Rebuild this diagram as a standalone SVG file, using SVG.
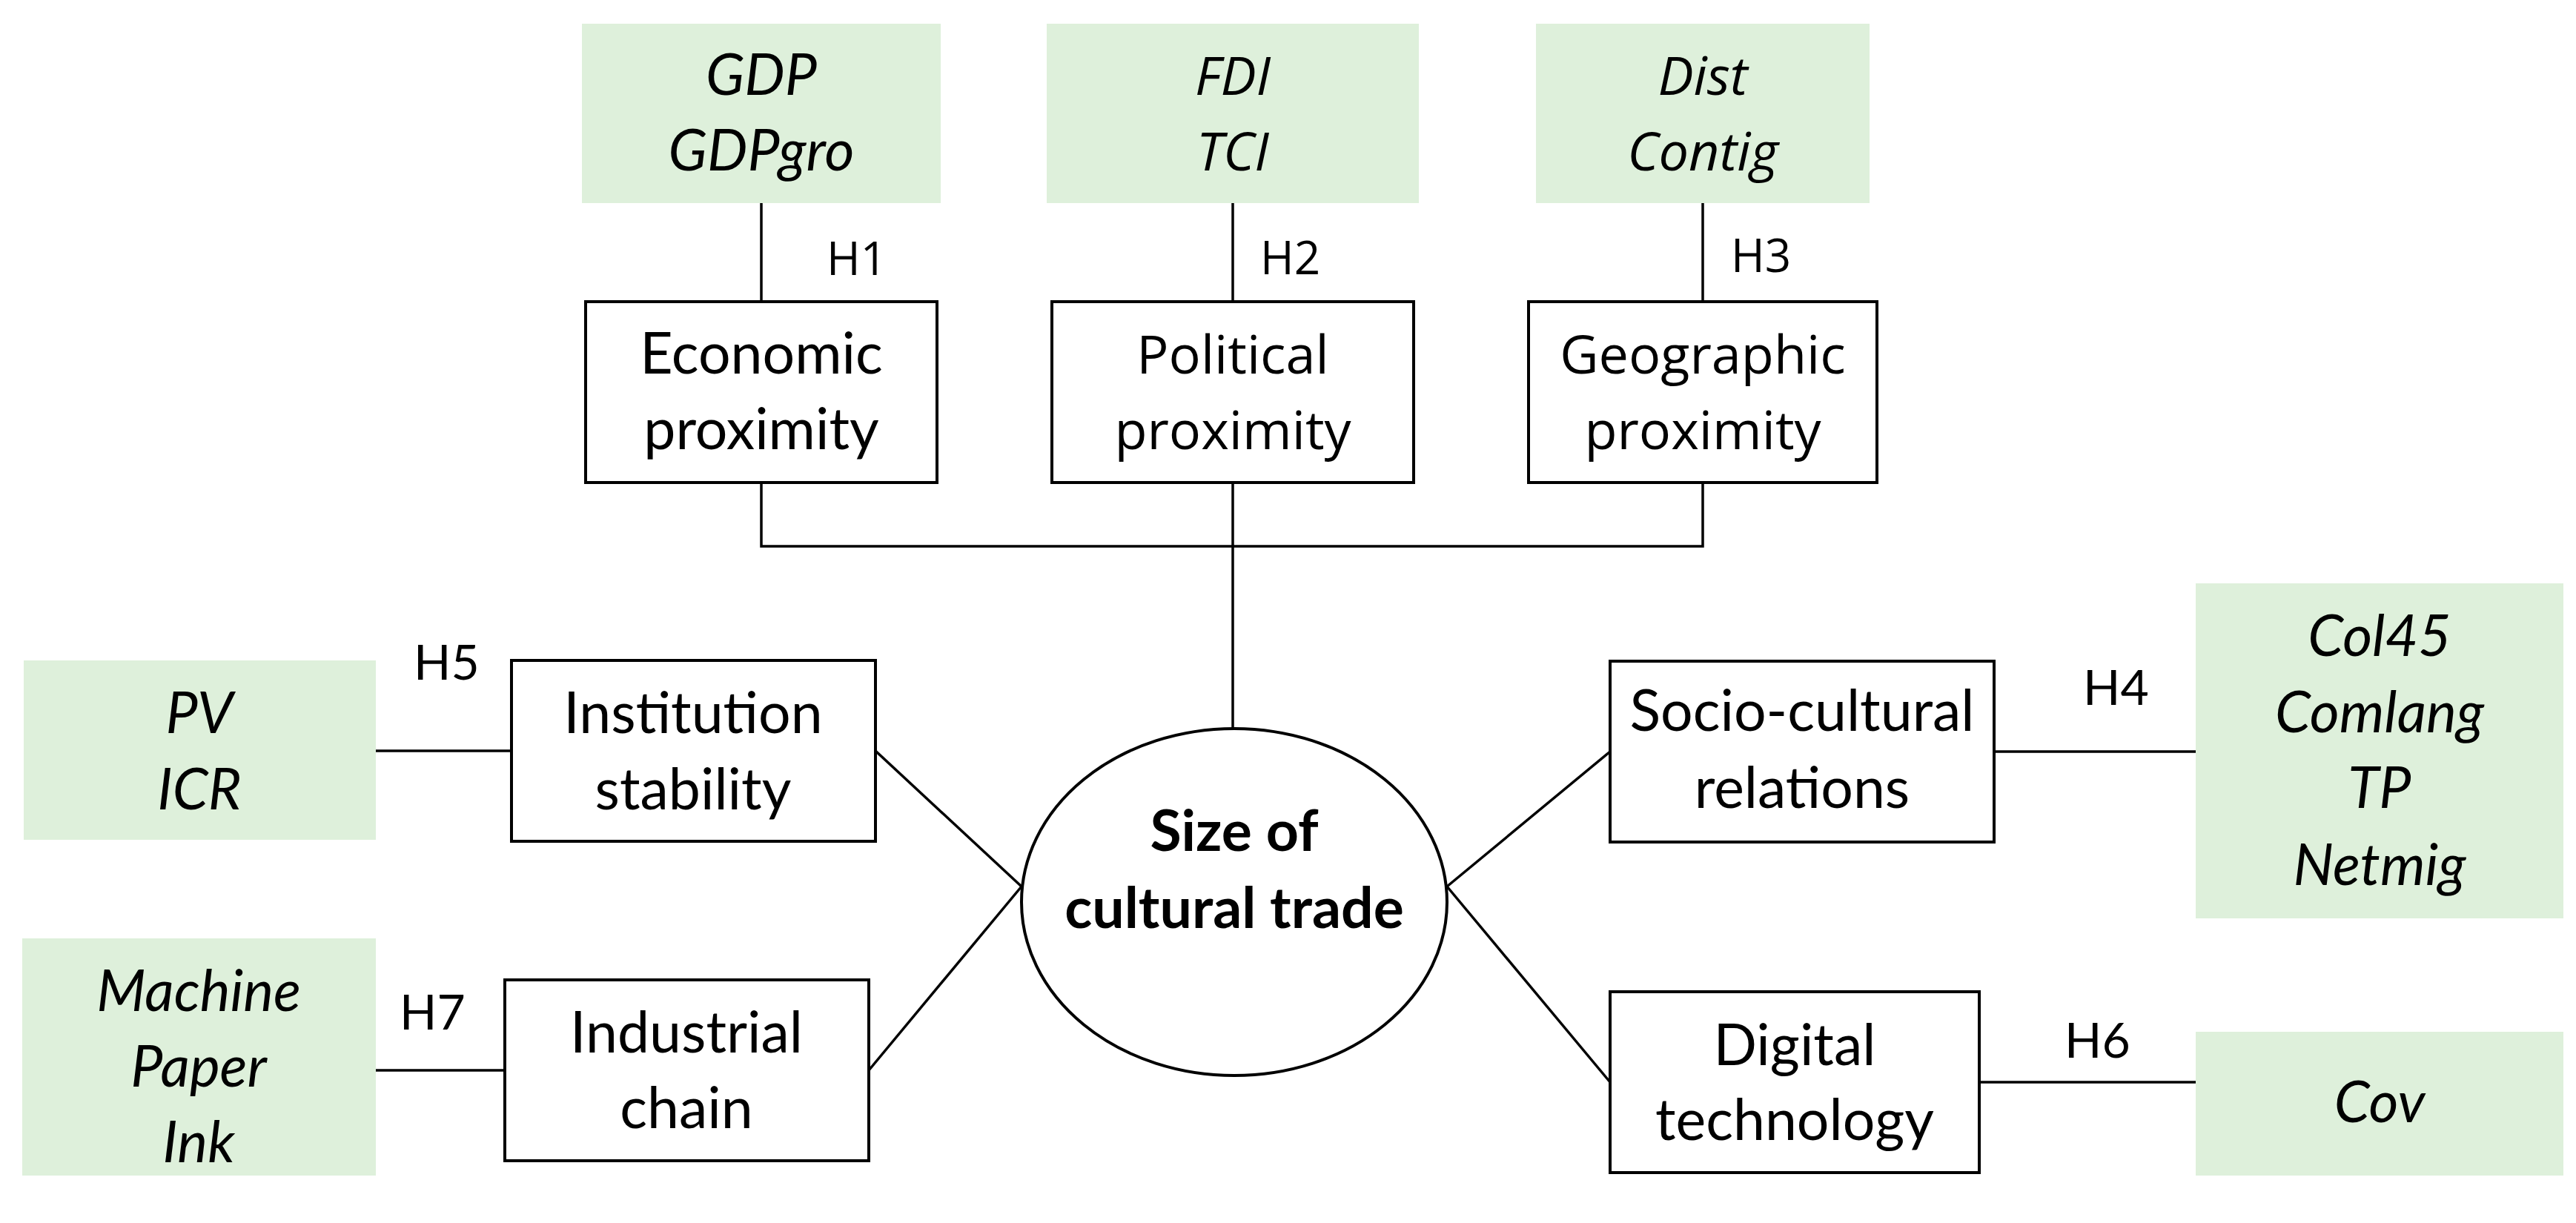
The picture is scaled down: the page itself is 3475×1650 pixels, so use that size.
<svg xmlns="http://www.w3.org/2000/svg" width="3475" height="1650" viewBox="0 0 3475 1650">
<style>
.bg{fill:#ffffff}
.box{fill:#ffffff;stroke:#000000;stroke-width:4}
.var{fill:#DEF0DB;stroke:none}
.ell{fill:#ffffff;stroke:#000000;stroke-width:4}
.conn{fill:none;stroke:#000000;stroke-width:3.5}
.t{font-family:Lato,"Liberation Sans",sans-serif;font-size:77px;text-anchor:middle;fill:#000}
.o{font-family:"Open Sans","Liberation Sans",sans-serif;font-size:72px;text-anchor:middle;fill:#000}
.i{font-style:italic}
.b{font-weight:bold}
.h{font-family:Lato,"Liberation Sans",sans-serif;font-size:66px;fill:#000}
.ho{font-family:"Open Sans","Liberation Sans",sans-serif;font-size:62px;fill:#000}
</style>
<rect class="bg" x="0" y="0" width="3475" height="1650"/>
<g id="connectors">
<line class="conn" x1="1027" y1="274" x2="1027" y2="407"/>
<line class="conn" x1="1663" y1="274" x2="1663" y2="407"/>
<line class="conn" x1="2297" y1="274" x2="2297" y2="407"/>
<polyline class="conn" points="1027,651 1027,737 2297,737 2297,651"/>
<line class="conn" x1="1663" y1="651" x2="1663" y2="983"/>
<line class="conn" x1="507" y1="1013" x2="690" y2="1013"/>
<line class="conn" x1="1181" y1="1013" x2="1378" y2="1196"/>
<line class="conn" x1="507" y1="1444" x2="681" y2="1444"/>
<line class="conn" x1="1172" y1="1444" x2="1378" y2="1196"/>
<line class="conn" x1="2172" y1="1014" x2="1952" y2="1196"/>
<line class="conn" x1="2690" y1="1014" x2="2962" y2="1014"/>
<line class="conn" x1="2172" y1="1460" x2="1952" y2="1196"/>
<line class="conn" x1="2670" y1="1460" x2="2962" y2="1460"/>
<text class="ho" x="1115" y="371">H1</text>
<text class="ho" x="1700" y="370">H2</text>
<text class="ho" x="2335" y="367">H3</text>
<text class="h" x="2810" y="951">H4</text>
<text class="h" x="558" y="917">H5</text>
<text class="h" x="2785" y="1427">H6</text>
<text class="h" x="539" y="1389">H7</text>
</g>
<g id="var-economic">
<rect class="var" x="785" y="32" width="484" height="242"/>
<text class="t i" x="1027" y="128">GDP</text>
<text class="t i" x="1027" y="230">GDPgro</text>
</g>
<g id="var-political">
<rect class="var" x="1412" y="32" width="502" height="242"/>
<text class="o i" x="1663" y="128">FDI</text>
<text class="o i" x="1663" y="230">TCI</text>
</g>
<g id="var-geographic">
<rect class="var" x="2072" y="32" width="450" height="242"/>
<text class="o i" x="2297" y="128">Dist</text>
<text class="o i" x="2297" y="230">Contig</text>
</g>
<g id="economic">
<rect class="box" x="790" y="407" width="474" height="244"/>
<text class="t" x="1027" y="504">Economic</text>
<text class="t" x="1027" y="606">proximity</text>
</g>
<g id="political">
<rect class="box" x="1419" y="407" width="488" height="244"/>
<text class="o" x="1663" y="504">Political</text>
<text class="o" x="1663" y="606">proximity</text>
</g>
<g id="geographic">
<rect class="box" x="2062" y="407" width="470" height="244"/>
<text class="o" x="2297" y="504">Geographic</text>
<text class="o" x="2297" y="606">proximity</text>
</g>
<g id="center">
<ellipse class="ell" cx="1665" cy="1217" rx="287" ry="234"/>
<text class="t b" x="1665" y="1148">Size of</text>
<text class="t b" x="1665" y="1252">cultural trade</text>
</g>
<g id="var-institution">
<rect class="var" x="32" y="891" width="475" height="242"/>
<text class="t i" x="269" y="989">PV</text>
<text class="t i" x="269" y="1092">ICR</text>
</g>
<g id="institution">
<rect class="box" x="690" y="891" width="491" height="244"/>
<text class="t" x="935" y="989">Institution</text>
<text class="t" x="935" y="1092">stability</text>
</g>
<g id="var-industrial">
<rect class="var" x="30" y="1266" width="477" height="320"/>
<text class="t i" x="268" y="1364">Machine</text>
<text class="t i" x="268" y="1466">Paper</text>
<text class="t i" x="268" y="1568">Ink</text>
</g>
<g id="industrial">
<rect class="box" x="681" y="1322" width="491" height="244"/>
<text class="t" x="926" y="1420">Industrial</text>
<text class="t" x="926" y="1522">chain</text>
</g>
<g id="sociocultural">
<rect class="box" x="2172" y="892" width="518" height="244"/>
<text class="t" x="2431" y="986">Socio-cultural</text>
<text class="t" x="2431" y="1090">relations</text>
</g>
<g id="var-sociocultural">
<rect class="var" x="2962" y="787" width="496" height="452"/>
<text class="t i" x="3210" y="885">Col45</text>
<text class="t i" x="3210" y="988">Comlang</text>
<text class="t i" x="3210" y="1090">TP</text>
<text class="t i" x="3210" y="1194">Netmig</text>
</g>
<g id="digital">
<rect class="box" x="2172" y="1338" width="498" height="244"/>
<text class="t" x="2421" y="1437">Digital</text>
<text class="t" x="2421" y="1538">technology</text>
</g>
<g id="var-digital">
<rect class="var" x="2962" y="1392" width="496" height="194"/>
<text class="t i" x="3210" y="1514">Cov</text>
</g>
</svg>
